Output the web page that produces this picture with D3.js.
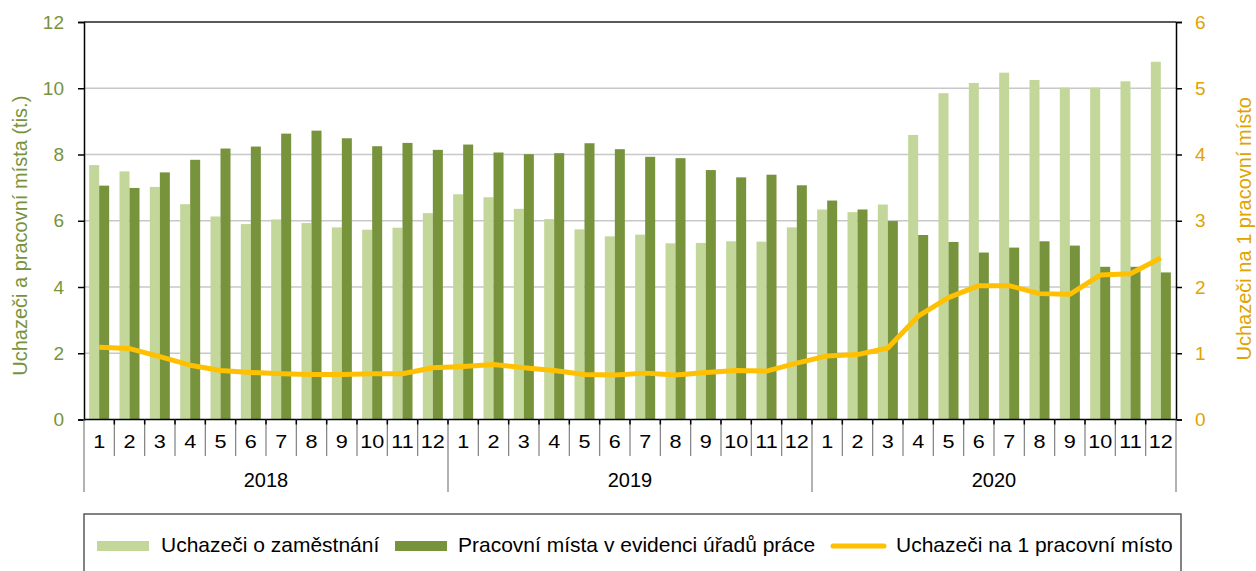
<!DOCTYPE html>
<meta charset="utf-8">
<style>
body { margin: 0; background: #fff; }
text { font-family: "Liberation Sans", Arial, sans-serif; }
</style>
<svg width="1256" height="571"></svg>
<script src="https://cdn.jsdelivr.net/npm/d3@7"></script>
<script>

var years = ["2018", "2019", "2020"],
    monthLabels = ["1", "2", "3", "4", "5", "6", "7", "8", "9", "10", "11", "12"];

// uchazeči o zaměstnání (tis.)
var uchazeci = [7.68, 7.49, 7.02, 6.50, 6.13, 5.90, 6.04, 5.93, 5.80, 5.73, 5.79, 6.23,
                6.80, 6.71, 6.36, 6.05, 5.74, 5.53, 5.58, 5.32, 5.33, 5.38, 5.37, 5.80,
                6.34, 6.26, 6.49, 8.59, 9.85, 10.16, 10.47, 10.25, 10.02, 10.02, 10.21, 10.80];

// pracovní místa v evidenci úřadů práce (tis.)
var mista = [7.06, 6.99, 7.46, 7.84, 8.18, 8.24, 8.63, 8.72, 8.49, 8.25, 8.35, 8.14,
             8.30, 8.06, 8.01, 8.04, 8.34, 8.16, 7.93, 7.89, 7.53, 7.31, 7.39, 7.07,
             6.61, 6.34, 5.99, 5.57, 5.36, 5.04, 5.19, 5.38, 5.25, 4.61, 4.61, 4.44];

// uchazeči na 1 pracovní místo
var podil = [1.09, 1.07, 0.95, 0.82, 0.74, 0.71, 0.69, 0.68, 0.68, 0.69, 0.69, 0.78,
             0.80, 0.83, 0.78, 0.74, 0.68, 0.67, 0.70, 0.67, 0.71, 0.74, 0.73, 0.85,
             0.96, 0.98, 1.08, 1.56, 1.84, 2.02, 2.02, 1.90, 1.89, 2.18, 2.20, 2.44];

var leftTicks = [0, 2, 4, 6, 8, 10, 12],
    rightTicks = [0, 1, 2, 3, 4, 5, 6];

var svg = d3.select("svg"),
    plotLeft = 84, plotRight = 1176, plotTop = 22, plotBottom = 419.5;

var green = "#77933c", gold = "#e0a300";

var periods = d3.range(years.length * 12);

var x = d3.scaleBand()
    .domain(periods)
    .range([plotLeft, plotRight])
    .paddingInner(0.34)
    .paddingOuter(0.17);

var x1 = d3.scaleBand()
    .domain([0, 1])
    .range([0, x.bandwidth()]);

var y = d3.scaleLinear().domain([0, 12]).range([plotBottom, plotTop]),
    y2 = d3.scaleLinear().domain([0, 6]).range([plotBottom, plotTop]);

// grid
svg.append("g")
  .selectAll("line")
  .data(leftTicks.slice(1, -1))
  .enter().append("line")
    .attr("x1", plotLeft).attr("x2", plotRight)
    .attr("y1", function(d) { return y(d); })
    .attr("y2", function(d) { return y(d); })
    .attr("stroke", "#c8c8c8")
    .attr("stroke-width", 1.3);

// bars
var bars = svg.append("g");

bars.selectAll(".u")
  .data(uchazeci)
  .enter().append("rect")
    .attr("x", function(d, i) { return x(i) + x1(0); })
    .attr("y", function(d) { return y(d); })
    .attr("width", x1.bandwidth())
    .attr("height", function(d) { return y(0) - y(d); })
    .attr("fill", "#c4d79b");

bars.selectAll(".m")
  .data(mista)
  .enter().append("rect")
    .attr("x", function(d, i) { return x(i) + x1(1); })
    .attr("y", function(d) { return y(d); })
    .attr("width", x1.bandwidth())
    .attr("height", function(d) { return y(0) - y(d); })
    .attr("fill", "#77933c");

// line
var line = d3.line()
    .x(function(d, i) { return x(i) + x.bandwidth() / 2; })
    .y(function(d) { return y2(d); });

svg.append("path")
    .datum(podil)
    .attr("d", line)
    .attr("fill", "none")
    .attr("stroke", "#ffc000")
    .attr("stroke-width", 5)
    .attr("stroke-linejoin", "round")
    .attr("stroke-linecap", "butt");

// frame
svg.append("line")
    .attr("x1", plotLeft).attr("x2", plotRight)
    .attr("y1", plotTop).attr("y2", plotTop)
    .attr("stroke", "#222").attr("stroke-width", 1.5);

svg.append("line")
    .attr("x1", plotLeft).attr("x2", plotRight)
    .attr("y1", plotBottom).attr("y2", plotBottom)
    .attr("stroke", "#000").attr("stroke-width", 1.5);

// left axis
var yAxis = svg.append("g")
    .attr("transform", "translate(" + plotLeft + ",0)")
    .call(d3.axisLeft(y).tickValues(leftTicks).tickFormat(d3.format("d"))
      .tickSize(6).tickPadding(14));

yAxis.select(".domain").attr("stroke", "#000").attr("stroke-width", 1.5);
yAxis.selectAll(".tick line").attr("stroke", "#000").attr("stroke-width", 1.5);
yAxis.selectAll(".tick text")
    .attr("fill", green)
    .style("font-size", "19px");

// right axis
var y2Axis = svg.append("g")
    .attr("transform", "translate(" + plotRight + ",0)")
    .call(d3.axisRight(y2).tickValues(rightTicks).tickFormat(d3.format("d"))
      .tickSize(6).tickPadding(13));

y2Axis.select(".domain").attr("stroke", "#000").attr("stroke-width", 1.5);
y2Axis.selectAll(".tick line").attr("stroke", "#000").attr("stroke-width", 1.5);
y2Axis.selectAll(".tick text")
    .attr("fill", gold)
    .style("font-size", "19px");

// category axis: months and years
var step = x.step(),
    edge = function(i) { return plotLeft + i * step; };

var xg = svg.append("g");

xg.selectAll(".sep")
  .data(d3.range(1, periods.length))
  .enter().append("line")
    .attr("x1", edge).attr("x2", edge)
    .attr("y1", plotBottom)
    .attr("y2", function(i) { return i % 12 === 0 ? 492 : 456; })
    .attr("stroke", "#7f7f7f")
    .attr("stroke-width", 1.2);

xg.selectAll(".tk")
  .data(d3.range(1, periods.length))
  .enter().append("line")
    .attr("x1", edge).attr("x2", edge)
    .attr("y1", plotBottom).attr("y2", plotBottom + 5)
    .attr("stroke", "#000")
    .attr("stroke-width", 1.5);

xg.selectAll(".edge")
  .data([0, periods.length])
  .enter().append("line")
    .attr("x1", edge).attr("x2", edge)
    .attr("y1", plotBottom).attr("y2", 492)
    .attr("stroke", "#7f7f7f")
    .attr("stroke-width", 1.2);

xg.selectAll(".month")
  .data(periods)
  .enter().append("text")
    .attr("transform", function(i) {
      return "translate(" + (x(i) + x.bandwidth() / 2) + ",448) scale(1.2,1)";
    })
    .attr("text-anchor", "middle")
    .style("font-size", "18px")
    .attr("fill", "#000")
    .text(function(i) { return monthLabels[i % 12]; });

xg.selectAll(".year")
  .data(years)
  .enter().append("text")
    .attr("x", function(d, j) { return edge(j * 12 + 6); })
    .attr("y", 487)
    .attr("text-anchor", "middle")
    .style("font-size", "20px")
    .attr("fill", "#000")
    .text(function(d) { return d; });

// axis titles
svg.append("text")
    .attr("transform", "translate(27," + ((plotTop + plotBottom) / 2 + 15) + ") rotate(-90)")
    .attr("text-anchor", "middle")
    .attr("fill", green)
    .style("font-size", "20px")
    .text("Uchazeči a pracovní místa (tis.)");

svg.append("text")
    .attr("transform", "translate(1251," + ((plotTop + plotBottom) / 2 + 8) + ") rotate(-90)")
    .attr("text-anchor", "middle")
    .attr("fill", gold)
    .style("font-size", "20px")
    .text("Uchazeči na 1 pracovní místo");

// legend
var legend = svg.append("g");

legend.append("rect")
    .attr("x", 84).attr("y", 514)
    .attr("width", 1097).attr("height", 90)
    .attr("fill", "none")
    .attr("stroke", "#404040")
    .attr("stroke-width", 1.3);

var legendItems = [
  {label: "Uchazeči o zaměstnání", color: "#c4d79b", type: "bar", x: 97, tx: 161},
  {label: "Pracovní místa v evidenci úřadů práce", color: "#77933c", type: "bar", x: 395, tx: 458},
  {label: "Uchazeči na 1 pracovní místo", color: "#ffc000", type: "line", x: 831, tx: 896}
];

legendItems.forEach(function(d) {
  if (d.type === "bar") {
    legend.append("rect")
        .attr("x", d.x).attr("y", 541)
        .attr("width", 52).attr("height", 10)
        .attr("fill", d.color);
  } else {
    legend.append("line")
        .attr("x1", d.x + 2).attr("x2", d.x + 53)
        .attr("y1", 546).attr("y2", 546)
        .attr("stroke", d.color)
        .attr("stroke-width", 5)
        .attr("stroke-linecap", "round");
  }
  legend.append("text")
      .attr("x", d.tx).attr("y", 552)
      .style("font-size", "21px")
      .attr("fill", "#000")
      .text(d.label);
});

</script>
